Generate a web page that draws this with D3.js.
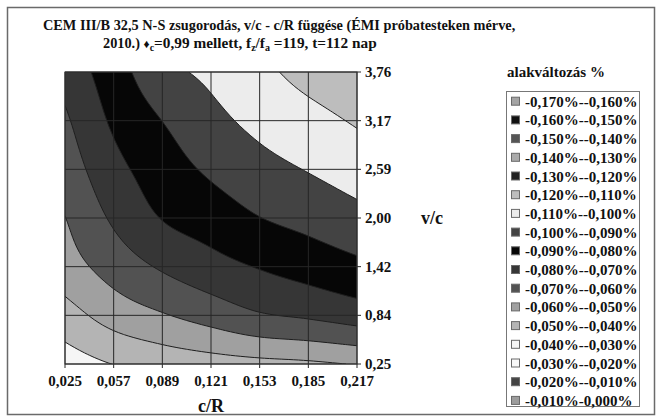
<!DOCTYPE html>
<html><head><meta charset="utf-8">
<script src="https://cdn.jsdelivr.net/npm/d3@7"></script>
<style>body{margin:0;background:#fff}</style>
</head><body><svg id="c" width="661" height="418"></svg>
<script>
// ---- data ----
const crLabels = ["0,025","0,057","0,089","0,121","0,153","0,185","0,217"];
const vcLabels = ["0,25","0,84","1,42","2,00","2,59","3,17","3,76"];
// strain (%) at each grid node, one array per v/c row, columns = c/R categories
const vc025 = [-0.0350,-0.0402,-0.0436,-0.0457,-0.0472,-0.0484,-0.0505];
const vc084 = [-0.0459,-0.0541,-0.0592,-0.0640,-0.0690,-0.0714,-0.0745];
const vc142 = [-0.0555,-0.0642,-0.0712,-0.0764,-0.0806,-0.0840,-0.0876];
const vc200 = [-0.0598,-0.0715,-0.0804,-0.0847,-0.0898,-0.0931,-0.0970];
const vc259 = [-0.0645,-0.0768,-0.0852,-0.0916,-0.0967,-0.1005,-0.1044];
const vc317 = [-0.0685,-0.0816,-0.0901,-0.0972,-0.1026,-0.1068,-0.1110];
const vc376 = [-0.0735,-0.0855,-0.0968,-0.1021,-0.1076,-0.1133,-0.1170];
const bandLower = [-0.17,-0.16,-0.15,-0.14,-0.13,-0.12,-0.11,-0.10,-0.09,-0.08,-0.07,-0.06,-0.05,-0.04,-0.03,-0.02,-0.01];
const bandLabels = ["-0,170%--0,160%","-0,160%--0,150%","-0,150%--0,140%","-0,140%--0,130%","-0,130%--0,120%","-0,120%--0,110%","-0,110%--0,100%","-0,100%--0,090%","-0,090%--0,080%","-0,080%--0,070%","-0,070%--0,060%","-0,060%--0,050%","-0,050%--0,040%","-0,040%--0,030%","-0,030%--0,020%","-0,020%--0,010%","-0,010%-0,000%"];
const bandColors = ["#a4a4a4","#111111","#555555","#aaaaaa","#222222","#bdbdbd","#ececec","#434343","#060606","#363636","#525252","#a0a0a0","#b4b4b4","#f6f6f6","#f8f8f8","#444444","#9c9c9c"];

// ---- layout ----
const svg = d3.select("#c");
const L = 65, R = 357, T = 72, B = 364;
const font = "'Liberation Serif','Times New Roman',serif";
const xs = d3.scalePoint().domain(crLabels).range([L, R]);
const ys = d3.scalePoint().domain(vcLabels).range([B, T]);
const xi = d3.scaleLinear().domain([0, crLabels.length - 1]).range([L, R]);
const yi = d3.scaleLinear().domain([0, vcLabels.length - 1]).range([B, T]);

svg.append("rect").attr("x",7.5).attr("y",7.5).attr("width",647).attr("height",407)
  .attr("fill","#fff").attr("stroke","#6a6a6a").attr("stroke-width",1.5);

// title
svg.append("text").attr("x",43).attr("y",30).attr("font-family",font)
  .attr("font-weight","bold").attr("font-size",14.3).attr("fill","#111")
  .text("CEM III/B 32,5 N-S zsugorodás, v/c - c/R függése (ÉMI próbatesteken mérve,");
const t2 = svg.append("text").attr("x",103).attr("y",48).attr("font-family",font)
  .attr("font-weight","bold").attr("fill","#111");
t2.append("tspan").attr("font-size",14.3).text("2010.) ");
t2.append("tspan").attr("font-size",12).text("\u2666");
t2.append("tspan").attr("font-size",10).attr("dy",3).text("c");
t2.append("tspan").attr("font-size",15.3).attr("dy",-3).text("=0,99 mellett, f");
t2.append("tspan").attr("font-size",10).attr("dy",3).text("z");
t2.append("tspan").attr("font-size",15.3).attr("dy",-3).text("/f");
t2.append("tspan").attr("font-size",10).attr("dy",3).text("a");
t2.append("tspan").attr("font-size",15.3).attr("dy",-3).text(" =119, t=112 nap");

// smooth surface (Catmull-Rom between the read nodes) for drawing the bands
const rows = [vc025, vc084, vc142, vc200, vc259, vc317, vc376];
const nx = crLabels.length, ny = vcLabels.length, K = 10;
function cr1(arr, t) {
  const n = arr.length, i = Math.min(Math.floor(t), n - 2), u = t - i;
  const p1 = arr[i], p2 = arr[i + 1];
  const p0 = i > 0 ? arr[i - 1] : 2 * p1 - p2;
  const p3 = i + 2 < n ? arr[i + 2] : 2 * p2 - p1;
  return 0.5 * ((2 * p1) + (-p0 + p2) * u + (2 * p0 - 5 * p1 + 4 * p2 - p3) * u * u + (-p0 + 3 * p1 - 3 * p2 + p3) * u * u * u);
}
const W = (nx - 1) * K + 1, H = (ny - 1) * K + 1;
const rowsFine = rows.map(r => d3.range(W).map(s => cr1(r, s / K)));
const fine = [];
for (let q = 0; q < H; q++) for (let s = 0; s < W; s++) fine.push(cr1(rowsFine.map(r => r[s]), q / K));
const contours = d3.contours().size([W, H]).thresholds(bandLower)(fine);
const proj = d3.geoTransform({point(x, y){ this.stream.point(xi((x - 0.5) / K), yi((y - 0.5) / K)); }});
const path = d3.geoPath(proj);
svg.append("clipPath").attr("id","pc").append("rect").attr("x",L).attr("y",T).attr("width",R-L).attr("height",B-T);
const g = svg.append("g").attr("clip-path","url(#pc)");
g.selectAll("path.f").data(contours).join("path").attr("class","f")
  .attr("d", path).attr("fill", d => bandColors[bandLower.indexOf(d.value)]).attr("stroke","none");
g.selectAll("path.l").data(contours).join("path").attr("class","l")
  .attr("d", path).attr("fill","none").attr("stroke","#1e1e1e").attr("stroke-width",1);

// grid lines
const gl = svg.append("g").attr("stroke","#262626").attr("stroke-width",1);
crLabels.forEach(c => gl.append("line").attr("x1",xs(c)).attr("x2",xs(c)).attr("y1",T).attr("y2",B+4));
vcLabels.forEach(v => gl.append("line").attr("x1",L).attr("x2",R+4).attr("y1",ys(v)).attr("y2",ys(v)));
svg.append("rect").attr("x",L).attr("y",T).attr("width",R-L).attr("height",B-T)
  .attr("fill","none").attr("stroke","#333").attr("stroke-width",1);

// axes labels
svg.append("g").selectAll("text").data(crLabels).join("text")
  .attr("x", d => xs(d)).attr("y",386).attr("text-anchor","middle")
  .attr("font-family",font).attr("font-weight","bold").attr("font-size",15).attr("fill","#111").text(d => d);
svg.append("g").selectAll("text").data(vcLabels).join("text")
  .attr("x", 365).attr("y", d => ys(d) + 5)
  .attr("font-family",font).attr("font-weight","bold").attr("font-size",15).attr("fill","#111").text(d => d);
svg.append("text").attr("x",211).attr("y",412).attr("text-anchor","middle")
  .attr("font-family",font).attr("font-weight","bold").attr("font-size",18).attr("fill","#111").text("c/R");
svg.append("text").attr("x",421).attr("y",224)
  .attr("font-family",font).attr("font-weight","bold").attr("font-size",18).attr("fill","#111").text("v/c");

// legend
svg.append("text").attr("x",507).attr("y",77).attr("font-family",font).attr("font-weight","bold")
  .attr("font-size",15).attr("fill","#111").text("alakváltozás %");
svg.append("rect").attr("x",506.5).attr("y",91.5).attr("width",133).attr("height",315)
  .attr("fill","#fff").attr("stroke","#777").attr("stroke-width",1);
const lg = svg.append("g").selectAll("g").data(bandLabels).join("g")
  .attr("transform", (d,i) => `translate(511,${101.7 + i*18.7})`);
lg.append("rect").attr("x",0.5).attr("y",-4.5).attr("width",8).attr("height",8)
  .attr("fill", (d,i) => bandColors[i]).attr("stroke","#6a6a6a").attr("stroke-width",1);
lg.append("text").attr("x",14).attr("y",5).attr("font-family",font).attr("font-weight","bold")
  .attr("font-size",15).attr("fill","#111").text(d => d);
</script></body></html>
